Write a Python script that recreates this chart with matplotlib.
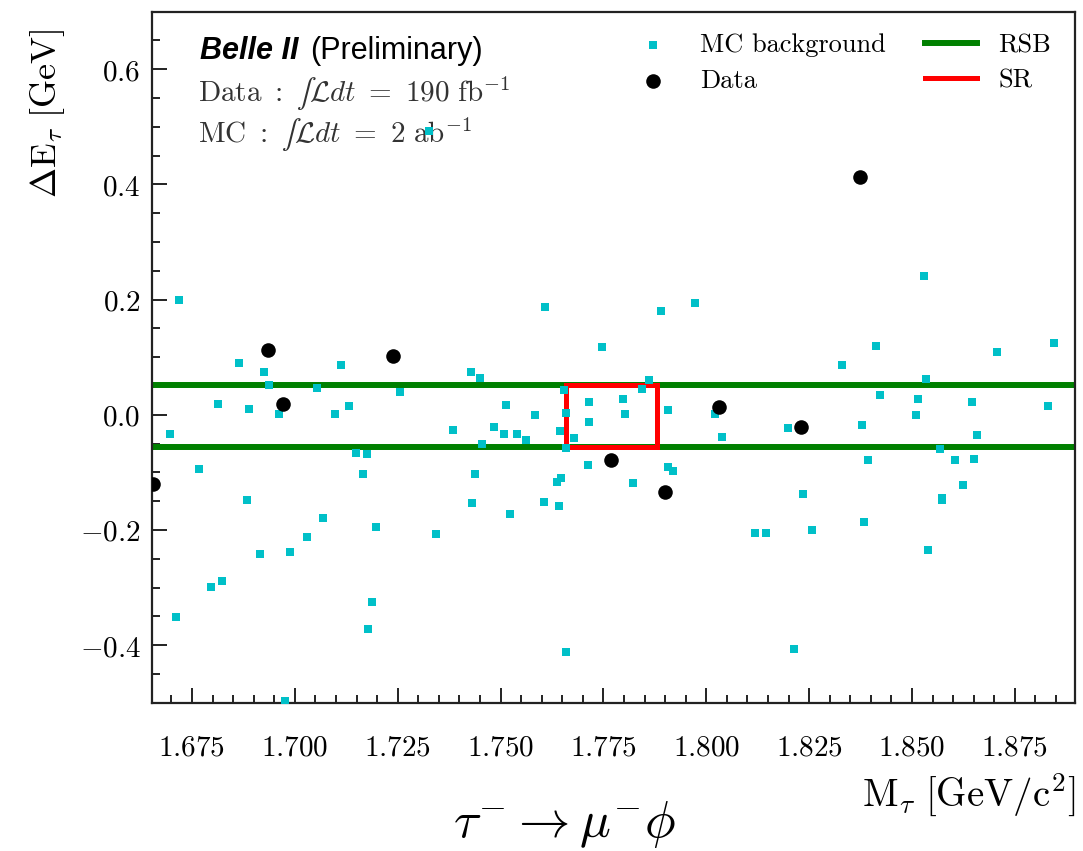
import matplotlib
matplotlib.use('Agg')
import matplotlib.pyplot as plt
from matplotlib.ticker import FixedLocator, MultipleLocator

plt.rcParams['mathtext.fontset'] = 'cm'
plt.rcParams['font.family'] = ['DejaVu Serif']

# ---------------- data ----------------
mc_mass = [1.6719, 1.7327, 1.6864, 1.6924, 1.6937, 1.7055, 1.7113, 1.7255, 1.6813, 1.6889,
           1.6962, 1.7098, 1.7132, 1.6697, 1.7384, 1.7148, 1.7175, 1.7166, 1.6766, 1.6883,
           1.7069, 1.7030, 1.7197, 1.7343, 1.6916, 1.6988, 1.6796, 1.6824, 1.6712, 1.7188,
           1.7177, 1.6976, 1.7427, 1.7450, 1.7609, 1.7747, 1.7889, 1.7972, 1.7861, 1.7844,
           1.7655, 1.7715, 1.7798, 1.7514, 1.7583, 1.7658, 1.7908, 1.7802, 1.7715, 1.7484,
           1.7509, 1.7539, 1.7563, 1.7644, 1.7678, 1.7456, 1.7659, 1.8020, 1.8037, 1.7712,
           1.7439, 1.7647, 1.7638, 1.7823, 1.7908, 1.7920, 1.7431, 1.7606, 1.7643, 1.7522,
           1.8118, 1.7658, 1.8529, 1.8412, 1.8330, 1.8706, 1.8846, 1.8534, 1.8422, 1.8515,
           1.8646, 1.8831, 1.8509, 1.8378, 1.8199, 1.8657, 1.8567, 1.8394, 1.8604, 1.8650,
           1.8235, 1.8625, 1.8572, 1.8573, 1.8146, 1.8258, 1.8383, 1.8539, 1.8212]
mc_delta_e = [0.200, 0.493, 0.089, 0.074, 0.052, 0.047, 0.087, 0.040, 0.019, 0.010,
              0.001, 0.002, 0.015, -0.033, -0.026, -0.066, -0.069, -0.103, -0.094, -0.148,
              -0.180, -0.213, -0.195, -0.207, -0.241, -0.238, -0.299, -0.288, -0.351, -0.325,
              -0.372, -0.497, 0.075, 0.063, 0.187, 0.117, 0.181, 0.194, 0.061, 0.045,
              0.043, 0.022, 0.028, 0.017, -0.001, 0.003, 0.008, 0.001, -0.013, -0.021,
              -0.033, -0.033, -0.043, -0.029, -0.040, -0.051, -0.057, 0.001, -0.039, -0.087,
              -0.103, -0.109, -0.117, -0.119, -0.091, -0.098, -0.154, -0.151, -0.158, -0.172,
              -0.206, -0.412, 0.241, 0.120, 0.086, 0.109, 0.124, 0.062, 0.035, 0.028,
              0.022, 0.016, 0.000, -0.018, -0.023, -0.035, -0.060, -0.078, -0.079, -0.077,
              -0.138, -0.122, -0.144, -0.148, -0.205, -0.200, -0.186, -0.235, -0.407]

data_mass = [1.6656, 1.6936, 1.6971, 1.7238, 1.7768, 1.7899, 1.8030, 1.8229, 1.8373]
data_delta_e = [-0.121, 0.112, 0.019, 0.102, -0.079, -0.135, 0.013, -0.021, 0.413]

rsb_delta_e = [-0.056, 0.052]
sr_mass = [1.766, 1.788]
sr_delta_e = [-0.056, 0.052]

x_ticks = [1.675, 1.700, 1.725, 1.750, 1.775, 1.800, 1.825, 1.850, 1.875]
x_tick_labels = ['1.675', '1.700', '1.725', '1.750', '1.775', '1.800', '1.825', '1.850', '1.875']
y_ticks = [-0.4, -0.2, 0.0, 0.2, 0.4, 0.6]
y_tick_labels = ['-0.4', '-0.2', '0.0', '0.2', '0.4', '0.6']

# ---------------- figure ----------------
fig = plt.figure(figsize=(10.83, 8.51), dpi=100)
ax = fig.add_axes([0.140, 0.1743, 0.8526, 0.8120])

ax.scatter(mc_mass, mc_delta_e, marker='s', s=36, color='#00c0c8', linewidths=0,
           label='MC background', zorder=4)
ax.scatter(data_mass, data_delta_e, marker='o', s=110, color='black', linewidths=0,
           label='Data', zorder=5)
for i, yv in enumerate(rsb_delta_e):
    ax.axhline(yv, color='green', lw=4.3, zorder=2, label='RSB' if i == 0 else None)
ax.plot([sr_mass[0], sr_mass[1], sr_mass[1], sr_mass[0], sr_mass[0]],
        [sr_delta_e[0], sr_delta_e[0], sr_delta_e[1], sr_delta_e[1], sr_delta_e[0]],
        color='red', lw=3.6, zorder=3, label='SR', solid_joinstyle='miter')

ax.set_xlim(1.6652, 1.8896)
ax.set_ylim(-0.5, 0.7)

ax.xaxis.set_major_locator(FixedLocator(x_ticks))
ax.set_xticklabels(['$' + s + '$' for s in x_tick_labels])
ax.yaxis.set_major_locator(FixedLocator(y_ticks))
ax.set_yticklabels(['$' + s + '$' for s in y_tick_labels])
ax.xaxis.set_minor_locator(MultipleLocator(0.005))
ax.yaxis.set_minor_locator(MultipleLocator(0.05))
ax.tick_params(which='both', direction='in', top=False, right=False, width=1.4, color='#222222')
ax.tick_params(which='major', length=11, labelsize=21)
ax.tick_params(which='minor', length=5.5)
ax.tick_params(axis='x', which='major', pad=22)
ax.tick_params(axis='y', which='major', pad=8)
for sp in ax.spines.values():
    sp.set_linewidth(1.6)
    sp.set_color('#222222')

leg = ax.legend(ncol=2, loc='upper right', bbox_to_anchor=(1.0, 1.003), frameon=False,
                prop={'family': 'cmr10', 'size': 19}, handlelength=2.0, handletextpad=0.8,
                columnspacing=1.45, labelspacing=0.45, scatterpoints=1)

ax.text(0.052, 0.932, 'Belle II', transform=ax.transAxes, fontsize=22,
        family='Liberation Sans', fontweight='bold', fontstyle='italic', va='baseline')
ax.text(0.1714, 0.932, '(Preliminary)', transform=ax.transAxes, fontsize=22,
        family='Liberation Sans', va='baseline')
ax.text(0.050, 0.869, '$\\mathrm{Data}\\ :\\ \u222b\\mathcal{L}dt\\ =\\ 190\\ \\mathrm{fb}^{-1}$',
        transform=ax.transAxes, fontsize=21, color='#333333', va='baseline')
ax.text(0.050, 0.810, '$\\mathrm{MC}\\ :\\ \u222b\\mathcal{L}dt\\ =\\ 2\\ \\mathrm{ab}^{-1}$',
        transform=ax.transAxes, fontsize=21, color='#333333', va='baseline')

ax.text(-0.1123, 0.976, r'$\Delta\mathrm{E}_{\tau}\ [\mathrm{GeV}]$', transform=ax.transAxes,
        fontsize=26, rotation=90, ha='center', va='top')
ax.text(1.0, -0.1336, r'$\mathrm{M}_{\tau}\ [\mathrm{GeV/c}^{2}]$', transform=ax.transAxes,
        fontsize=28, ha='right', va='center')
fig.text(0.5217, 0.031, r'$\tau^{-}\rightarrow\mu^{-}\phi$', fontsize=37, ha='center', va='center')

fig.savefig('out.png', dpi=100)
